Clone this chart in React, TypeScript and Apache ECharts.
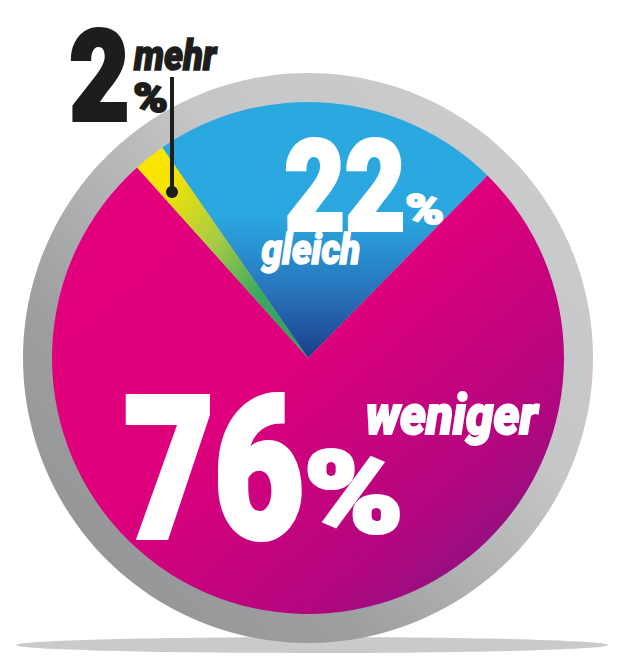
import React, { useEffect, useRef } from "react";
import * as echarts from "echarts";

// ---- data ----
const categories = ["gleich", "weniger", "mehr"];
const values = [22, 76, 2];
const percentSign = "%";

const DIGIT_FONT = "Roboto, 'Liberation Sans', sans-serif";

type Box = [number, number, number, number];

function measure(text: string, fontStyle: string, fontWeight: string | number, fontFamily: string) {
  const canvas = document.createElement("canvas");
  const ctx = canvas.getContext("2d")!;
  ctx.font = `${fontStyle} ${fontWeight} 100px ${fontFamily}`;
  ctx.textBaseline = "middle";
  ctx.textAlign = "left";
  return ctx.measureText(text);
}

function fitText(
  text: string,
  box: Box,
  fill: string,
  fontStyle: string,
  fontWeight: string | number,
  fontFamily: string,
  thick: number
) {
  const base = 100;
  const m = measure(text, fontStyle, fontWeight, fontFamily);
  const inkW = m.actualBoundingBoxLeft + m.actualBoundingBoxRight;
  const inkH = m.actualBoundingBoxAscent + m.actualBoundingBoxDescent;
  // first pass
  let sy = (box[3] - box[1]) / inkH;
  let sx = (box[2] - box[0]) / (inkW * sy);
  // shrink the box for the outline thickening
  const h = thick / 2;
  const inner: Box = [box[0] + h * sx, box[1] + h, box[2] - h * sx, box[3] - h];
  sy = (inner[3] - inner[1]) / inkH;
  sx = (inner[2] - inner[0]) / (inkW * sy);
  const fontSize = base * sy;
  const x = inner[0] + m.actualBoundingBoxLeft * sy * sx;
  const y = inner[1] + m.actualBoundingBoxAscent * sy;
  return {
    type: "text",
    x,
    y,
    scaleX: sx,
    scaleY: 1,
    z: 100,
    silent: true,
    style: {
      text,
      x: 0,
      y: 0,
      fill,
      stroke: thick > 0 ? fill : undefined,
      lineWidth: thick,
      lineJoin: "round",
      fontSize,
      fontWeight,
      fontStyle,
      fontFamily,
      align: "left",
      verticalAlign: "middle",
      textAlign: "left",
      textVerticalAlign: "middle",
    },
  };
}

export default function App() {
  const ref = useRef<HTMLDivElement>(null);

  useEffect(() => {
    if (!ref.current) return;
    const chart = echarts.init(ref.current, null, { renderer: "svg" });

    const cx = 308;
    const cy = 358;

    const sliceColors: Record<string, any> = {
      gleich: new echarts.graphic.LinearGradient(0, 0, 0, 1, [
        { offset: 0, color: "#29A9E0" },
        { offset: 0.45, color: "#2AA7DE" },
        { offset: 0.75, color: "#2872BA" },
        { offset: 1, color: "#1C3D8A" },
      ]),
      weniger: new echarts.graphic.LinearGradient(0, 0, 1, 1, [
        { offset: 0, color: "#E4007C" },
        { offset: 0.45, color: "#DE007C" },
        { offset: 0.75, color: "#B2067F" },
        { offset: 1, color: "#6F1E82" },
      ]),
      mehr: new echarts.graphic.LinearGradient(0, 0, 1, 1, [
        { offset: 0, color: "#FFE800" },
        { offset: 0.18, color: "#F3E300" },
        { offset: 0.45, color: "#A9CB46" },
        { offset: 0.7, color: "#3CA95D" },
        { offset: 1, color: "#2E9E62" },
      ]),
    };

    const white = "#FFFFFF";
    const black = "#1D1D1B";

    const texts = [
      fitText(`${values[2]}`, [70, 15, 127, 110], black, "normal", 900, DIGIT_FONT, 4),
      fitText(categories[2], [133, 33, 218, 67], black, "italic", 900, DIGIT_FONT, 1.5),
      fitText(percentSign, [134, 78, 167, 110], black, "normal", 900, DIGIT_FONT, 2),
      fitText(`${values[0]}`, [285, 125, 403, 220], white, "normal", 900, DIGIT_FONT, 4),
      fitText(percentSign, [406, 189, 443, 222], white, "normal", 900, DIGIT_FONT, 2),
      fitText(categories[0], [260, 228, 360, 270], white, "italic", 900, DIGIT_FONT, 1.5),
      fitText(`${values[1]}`, [125, 373, 303, 523], white, "normal", 900, DIGIT_FONT, 6),
      fitText(percentSign, [307, 438, 400, 525], white, "normal", 900, DIGIT_FONT, 4),
      fitText(categories[1], [367, 387, 540, 442], white, "italic", 900, DIGIT_FONT, 2),
    ];

    chart.setOption({
      animation: false,
      backgroundColor: "#FFFFFF",
      graphic: {
        elements: [
          {
            type: "ellipse",
            z: 0,
            silent: true,
            shape: { cx: 312, cy: 645, rx: 296, ry: 8 },
            style: { fill: "#C9CACC" },
          },
          {
            type: "circle",
            z: 1,
            silent: true,
            shape: { cx, cy, r: 285 },
            style: {
              fill: new echarts.graphic.LinearGradient(0, 1, 1, 0, [
                { offset: 0, color: "#8F9092" },
                { offset: 0.3, color: "#9D9EA0" },
                { offset: 0.62, color: "#C5C6C8" },
                { offset: 1, color: "#CDCED0" },
              ]),
            },
          },
          {
            type: "line",
            z: 100,
            silent: true,
            shape: { x1: 172, y1: 77, x2: 172, y2: 192 },
            style: { stroke: black, lineWidth: 4 },
          },
          {
            type: "circle",
            z: 100,
            silent: true,
            shape: { cx: 172, cy: 192, r: 6 },
            style: { fill: black },
          },
          ...texts,
        ],
      },
      series: [
        {
          type: "pie",
          z: 5,
          silent: true,
          center: [cx, cy],
          radius: [0, 256],
          startAngle: 124.7,
          clockwise: true,
          label: { show: false },
          labelLine: { show: false },
          emphasis: { disabled: true },
          itemStyle: { borderWidth: 0 },
          data: categories.map((c, i) => ({
            name: c,
            value: values[i],
            itemStyle: { color: sliceColors[c], borderWidth: 0 },
          })),
        },
      ],
    });

    return () => chart.dispose();
  }, []);

  return (
    <div
      ref={ref}
      style={{ position: "absolute", left: 0, top: 0, width: 620, height: 662 }}
    />
  );
}
